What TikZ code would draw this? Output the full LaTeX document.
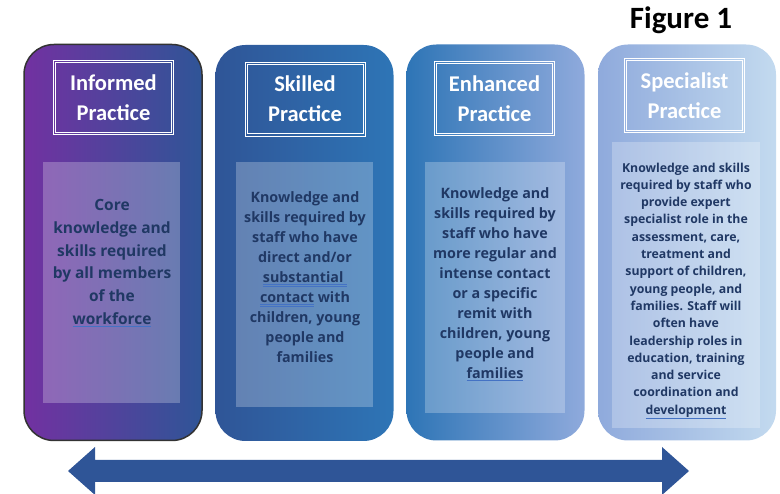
\documentclass[tikz,border=0pt]{standalone}
\usepackage{fontspec}
\setmainfont{Carlito}
\newfontfamily\bodyfont{Open Sans}
\usetikzlibrary{calc}

\definecolor{pracpurple}{HTML}{7231A1}
\definecolor{pracdark}{HTML}{2F5597}
\definecolor{pracmid}{HTML}{2E75B6}
\definecolor{praclight}{HTML}{8FAADC}
\definecolor{pracpale}{HTML}{C3DAEF}
\definecolor{bodyink}{HTML}{203864}
\definecolor{linkblue}{HTML}{4472C4}

\newcommand{\uline}[1]{{\color{linkblue}\underline{\textcolor{bodyink}{#1}}}}
\newcommand{\uuline}[1]{{\color{linkblue}\underline{\underline{\textcolor{bodyink}{#1}}}}}

\tikzset{
  card/.style={rounded corners=30pt, minimum width=178pt, minimum height=396pt, inner sep=0pt},
  panel/.style={fill=white, fill opacity=0.25, inner sep=0pt},
  titlebox/.style={draw=white, line width=0.6pt, text=white, align=center,
    minimum width=120pt, minimum height=74pt, inner sep=0pt,
    font=\fontsize{22.5}{30}\selectfont\bfseries},
  bodytxt/.style={text=bodyink, align=center, inner sep=0pt, font=\bodyfont\bfseries}
}

\begin{document}
\begin{tikzpicture}[x=1pt, y=-1pt]
\useasboundingbox (0,0) rectangle (780,494);

\node[card, left color=pracpurple, right color=pracdark, draw=black!80, line width=1.5pt] (c1) at (113,242.5) {};
\node[card, left color=pracdark, right color=pracmid] (c2) at (304.5,243) {};
\node[card, left color=pracmid, right color=praclight] (c3) at (495.5,242.5) {};
\node[card, left color=praclight, right color=pracpale] (c4) at (687,242.5) {};

\node[panel, minimum width=137pt, minimum height=241pt] (p1) at (111.5,282.5) {};
\node[panel, minimum width=137pt, minimum height=245pt] (p2) at (304.5,284.5) {};
\node[panel, minimum width=140pt, minimum height=251pt] (p3) at (495,287.5) {};
\node[panel, minimum width=148pt, minimum height=286pt] (p4) at (686,285) {};

\node[titlebox] (t1) at (113.5,97.5) {Informed\\Practice};
\node[titlebox] (t2) at (305,99) {Skilled\\Practice};
\node[titlebox] (t3) at (494.5,98.5) {Enhanced\\Practice};
\node[titlebox] (t4) at (684.5,95.5) {Specialist\\Practice};
\foreach \n in {t1,t2,t3,t4}
  \draw[white, line width=0.6pt] ([shift={(2.5pt,-2.5pt)}]\n.north west) rectangle ([shift={(-2.5pt,2.5pt)}]\n.south east);

\node[bodytxt, font=\bodyfont\bfseries\fontsize{15.5}{22.8}\selectfont] (b1) at (112,263)
  {Core\\knowledge and\\skills required\\by all members\\of the\\\uline{workforce}};
\node[bodytxt, font=\bodyfont\bfseries\fontsize{14.3}{20}\selectfont] (b2) at (305,277)
  {Knowledge and\\skills required by\\staff who have\\direct and/or\\\uuline{substantial\ }\\\uuline{contact} with\\children, young\\people and\\families};
\node[bodytxt, font=\bodyfont\bfseries\fontsize{14.3}{20}\selectfont] (b3) at (495,284)
  {Knowledge and\\skills required by\\staff who have\\more regular and\\intense contact\\or a specific\\remit with\\children, young\\people and\\\uline{families}};
\node[bodytxt, font=\bodyfont\bfseries\fontsize{12.3}{17.3}\selectfont] (b4) at (686,291)
  {Knowledge and skills\\required by staff who\\provide expert\\specialist role in the\\assessment, care,\\treatment and\\support of children,\\young people, and\\families. Staff will\\often have\\leadership roles in\\education, training\\and service\\coordination and\\\uline{development}};

\node[font=\fontsize{31}{34}\selectfont\bfseries] (fig) at (681,20) {Figure 1};

\fill[pracdark] (68,471) -- (95,447) -- (95,460) -- (662,460) -- (662,447) -- (689,471)
  -- (662,495) -- (662,482) -- (95,482) -- (95,495) -- cycle;
\end{tikzpicture}
\end{document}
